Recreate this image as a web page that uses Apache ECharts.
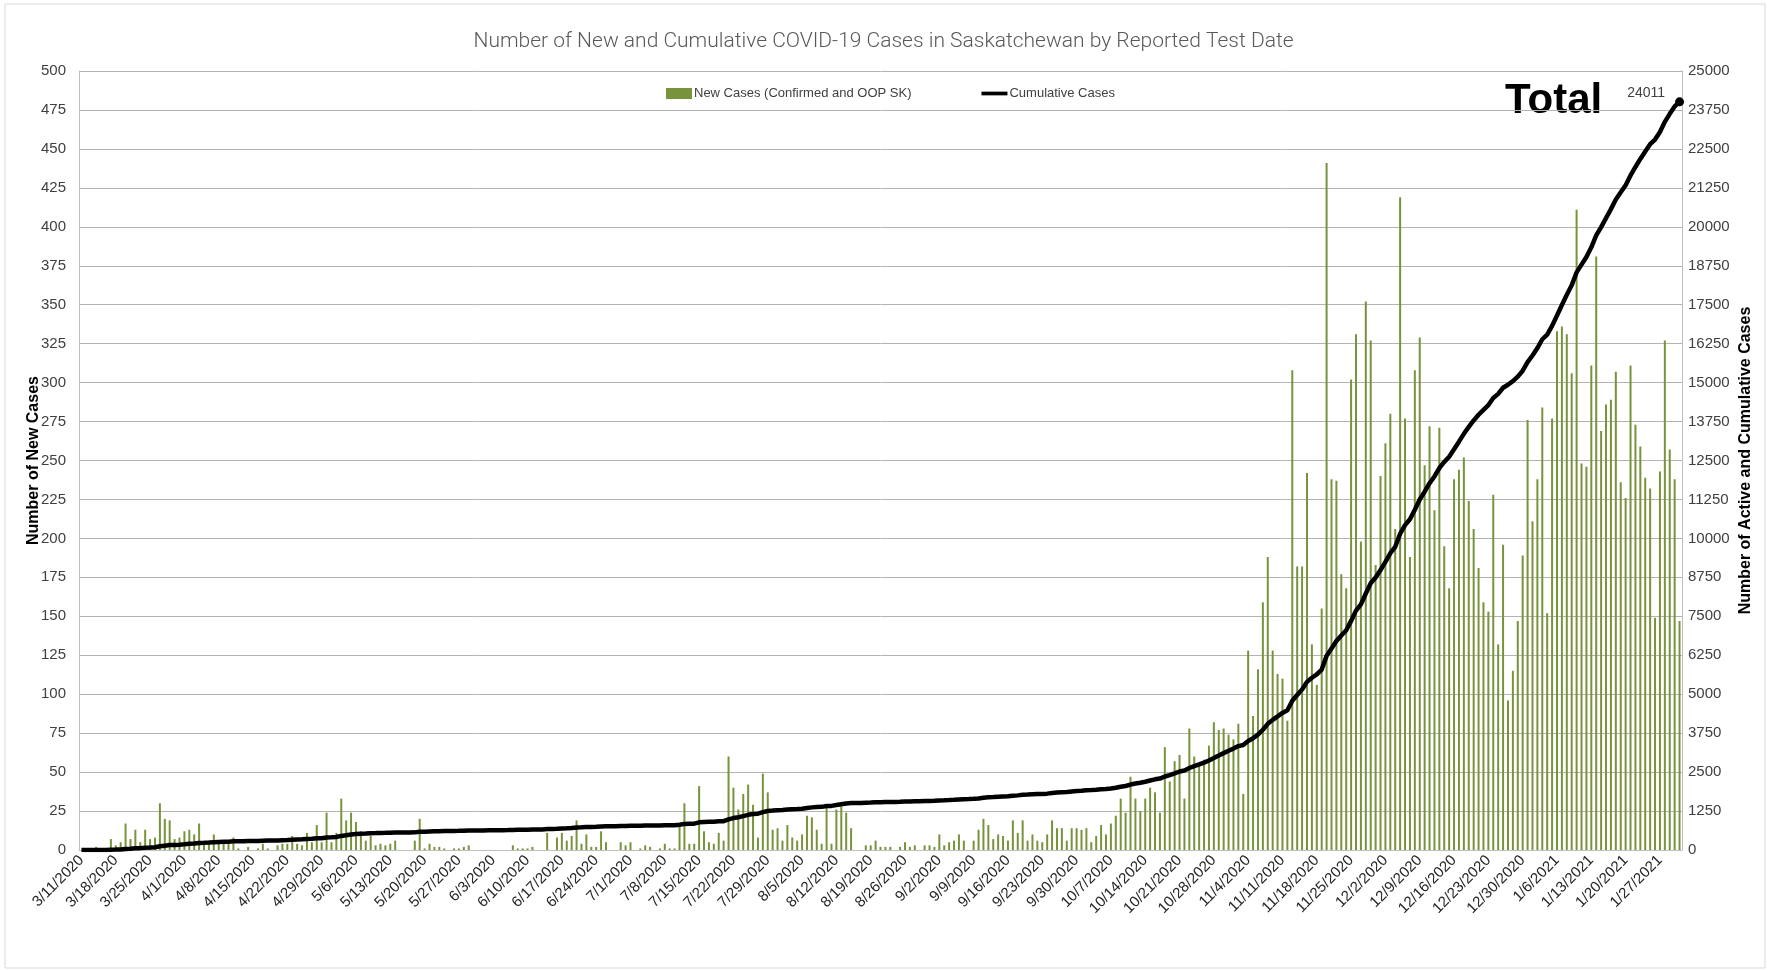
<!DOCTYPE html>
<html>
<head>
<meta charset="utf-8">
<title>New and Cumulative COVID-19 Cases in Saskatchewan</title>
<script src="https://cdn.jsdelivr.net/npm/echarts@6/dist/echarts.min.js"></script>
<style>
  html, body { margin: 0; padding: 0; background: #fff; }
  #chart { width: 1767px; height: 970px; }
</style>
</head>
<body>
<div id="chart"></div>
<script>
// daily new cases (3/11/2020 .. 1/31/2021)
const newCases = [
  0, 1, 0, 2, 0, 0, 7, 3, 5, 17,
  7, 13, 5, 13, 7, 8, 30, 20, 19, 7,
  8, 12, 13, 10, 17, 4, 5, 10, 5, 4,
  4, 8, 1, 0, 2, 0, 1, 4, 1, 0,
  3, 4, 4, 9, 4, 3, 11, 5, 16, 5,
  24, 5, 11, 33, 19, 24, 18, 12, 6, 9,
  3, 4, 3, 4, 6, 0, 0, 0, 6, 20,
  1, 4, 2, 2, 1, 0, 1, 1, 2, 3,
  0, 0, 0, 0, 0, 0, 0, 0, 3, 1,
  1, 1, 2, 0, 0, 11, 0, 8, 11, 6,
  9, 19, 4, 10, 2, 2, 12, 5, 0, 0,
  5, 3, 5, 0, 1, 3, 2, 0, 1, 4,
  1, 1, 15, 30, 4, 4, 41, 12, 5, 4,
  11, 6, 60, 40, 26, 36, 42, 29, 8, 49,
  37, 13, 14, 6, 16, 8, 6, 10, 22, 21,
  13, 4, 27, 4, 26, 28, 24, 14, 0, 0,
  3, 3, 6, 2, 2, 2, 0, 2, 5, 2,
  3, 0, 3, 3, 2, 10, 3, 5, 6, 10,
  6, 0, 6, 13, 20, 16, 7, 10, 9, 6,
  19, 11, 19, 6, 10, 6, 5, 10, 19, 14,
  14, 6, 14, 14, 13, 14, 5, 9, 16, 10,
  17, 22, 33, 24, 47, 33, 25, 33, 40, 37,
  24, 66, 44, 57, 61, 33, 78, 60, 56, 58,
  67, 82, 77, 78, 74, 71, 81, 36, 128, 86,
  116, 159, 188, 128, 113, 110, 83, 308, 182, 182,
  242, 132, 106, 155, 441, 238, 237, 177, 168, 302,
  331, 198, 352, 327, 183, 240, 261, 280, 206, 419,
  277, 188, 308, 329, 247, 272, 218, 271, 195, 168,
  238, 244, 252, 224, 206, 181, 159, 153, 228, 132,
  196, 96, 115, 147, 189, 276, 211, 238, 284, 152,
  277, 333, 336, 331, 306, 411, 248, 246, 311, 381,
  269, 286, 289, 307, 236, 226, 311, 273, 259, 239,
  232, 149, 243, 327, 257, 238, 147
];

// cumulative cases
const cumulativeCases = [
  0, 1, 1, 3, 3, 3, 10, 13, 18, 35,
  42, 55, 60, 73, 80, 88, 118, 138, 157, 164,
  172, 184, 197, 207, 224, 230, 237, 249, 256, 262,
  268, 278, 281, 283, 287, 289, 292, 298, 301, 303,
  308, 314, 320, 331, 337, 342, 353, 358, 374, 379,
  403, 408, 419, 452, 471, 495, 513, 525, 531, 540,
  543, 547, 550, 554, 560, 560, 560, 560, 566, 586,
  589, 595, 599, 603, 606, 608, 611, 614, 618, 623,
  625, 627, 629, 631, 633, 635, 637, 639, 644, 647,
  650, 653, 657, 659, 661, 672, 672, 680, 691, 697,
  706, 725, 729, 739, 741, 743, 755, 760, 761, 762,
  768, 772, 778, 779, 781, 784, 786, 786, 787, 791,
  792, 793, 808, 838, 842, 846, 887, 899, 904, 908,
  919, 925, 985, 1025, 1051, 1087, 1129, 1158, 1166, 1215,
  1252, 1265, 1279, 1285, 1301, 1309, 1315, 1325, 1347, 1368,
  1381, 1385, 1412, 1416, 1442, 1470, 1494, 1508, 1510, 1512,
  1517, 1522, 1530, 1534, 1538, 1542, 1544, 1548, 1555, 1559,
  1564, 1566, 1571, 1576, 1580, 1592, 1597, 1604, 1612, 1624,
  1632, 1634, 1642, 1655, 1675, 1691, 1698, 1708, 1717, 1723,
  1742, 1753, 1772, 1778, 1788, 1794, 1799, 1809, 1828, 1842,
  1856, 1862, 1876, 1890, 1903, 1917, 1922, 1931, 1947, 1957,
  1974, 1996, 2029, 2053, 2100, 2133, 2158, 2191, 2231, 2268,
  2292, 2358, 2402, 2459, 2520, 2553, 2631, 2691, 2747, 2805,
  2872, 2954, 3031, 3109, 3183, 3254, 3335, 3371, 3499, 3585,
  3701, 3860, 4048, 4176, 4289, 4399, 4482, 4790, 4972, 5154,
  5396, 5528, 5634, 5789, 6230, 6468, 6705, 6882, 7050, 7352,
  7683, 7881, 8233, 8560, 8743, 8983, 9244, 9524, 9730, 10149,
  10426, 10614, 10922, 11251, 11498, 11770, 11988, 12259, 12454, 12622,
  12860, 13104, 13356, 13580, 13786, 13967, 14126, 14279, 14507, 14639,
  14835, 14931, 15046, 15193, 15382, 15658, 15869, 16107, 16391, 16543,
  16820, 17153, 17489, 17820, 18126, 18537, 18785, 19031, 19342, 19723,
  19992, 20278, 20567, 20874, 21110, 21336, 21647, 21920, 22179, 22418,
  22650, 22799, 23042, 23369, 23626, 23864, 24011
];

// first reported test date: 11 March 2020, one category per day
const firstDay = { year: 2020, month: 3, day: 11 };

const leftTicks = { min: 0, max: 500, step: 25 };
const rightTicks = { min: 0, max: 25000, step: 1250 };

const sans = "'Liberation Sans', Arial, sans-serif";

// m/d/yyyy labels like the original axis
const dates = newCases.map((_, i) => {
  const d = new Date(Date.UTC(firstDay.year, firstDay.month - 1, firstDay.day + i));
  return (d.getUTCMonth() + 1) + '/' + d.getUTCDate() + '/' + d.getUTCFullYear();
});
const last = cumulativeCases.length - 1;

const chart = echarts.init(document.getElementById('chart'));

const option = {
  animation: false,
  backgroundColor: '#fff',
  title: {
    text: 'Number of New and Cumulative COVID-19 Cases in Saskatchewan by Reported Test Date',
    left: 'center',
    top: 26,
    textStyle: { fontFamily: 'Roboto', fontSize: 21, fontWeight: 300, color: '#595959' }
  },
  legend: {
    left: 661,
    top: 82,
    itemGap: 70,
    itemWidth: 26,
    itemHeight: 11,
    textStyle: { fontFamily: sans, fontSize: 13, color: '#404040', padding: [0, 0, 0, -3] },
    data: [
      { name: 'New Cases (Confirmed and OOP SK)', icon: 'rect' },
      { name: 'Cumulative Cases', icon: 'path://M0,0L28,0L28,4L0,4Z' }
    ]
  },
  grid: { left: 79, right: 85, top: 71, bottom: 120, containLabel: false },
  xAxis: {
    type: 'category',
    data: dates,
    boundaryGap: true,
    axisLine: { lineStyle: { color: '#bfbfbf' } },
    axisTick: { show: false },
    axisLabel: {
      interval: 6,
      rotate: 45,
      margin: 8,
      fontFamily: sans,
      fontSize: 15,
      color: '#262626'
    }
  },
  yAxis: [
    {
      type: 'value',
      min: leftTicks.min,
      max: leftTicks.max,
      interval: leftTicks.step,
      name: 'Number of New Cases',
      nameLocation: 'middle',
      nameRotate: 90,
      nameGap: 37,
      nameMoveOverlap: false,
      nameTextStyle: { fontFamily: sans, fontWeight: 'bold', fontSize: 16, color: '#000' },
      axisLine: { show: true, lineStyle: { color: '#bfbfbf' } },
      axisTick: { show: false },
      axisLabel: { margin: 13, fontFamily: sans, fontSize: 15, color: '#404040' },
      splitLine: { lineStyle: { color: '#b3b3b3', width: 1 } }
    },
    {
      type: 'value',
      position: 'right',
      min: rightTicks.min,
      max: rightTicks.max,
      interval: rightTicks.step,
      name: 'Number of Active and Cumulative Cases',
      nameLocation: 'middle',
      nameRotate: 90,
      nameGap: 56,
      nameMoveOverlap: false,
      nameTextStyle: { fontFamily: sans, fontWeight: 'bold', fontSize: 16, color: '#000' },
      axisLine: { show: true, lineStyle: { color: '#bfbfbf' } },
      axisTick: { show: false },
      axisLabel: { margin: 6, fontFamily: sans, fontSize: 15, color: '#404040', formatter: v => String(v) },
      splitLine: { show: false }
    }
  ],
  series: [
    {
      name: 'New Cases (Confirmed and OOP SK)',
      type: 'bar',
      yAxisIndex: 0,
      barWidth: 2,
      itemStyle: { color: '#77933c' },
      data: newCases
    },
    {
      name: 'Cumulative Cases',
      type: 'line',
      yAxisIndex: 1,
      showSymbol: false,
      symbol: 'none',
      lineStyle: { color: '#000', width: 4.5 },
      itemStyle: { color: '#000' },
      data: cumulativeCases,
      markPoint: {
        symbol: 'circle',
        symbolSize: 9,
        itemStyle: { color: '#000' },
        label: {
          show: true,
          position: 'left',
          distance: 10,
          offset: [0, -9],
          fontFamily: sans,
          fontSize: 14,
          color: '#404040',
          formatter: String(cumulativeCases[last])
        },
        data: [{ coord: [dates[last], cumulativeCases[last]] }]
      }
    }
  ],
  graphic: [
    {
      type: 'rect',
      silent: true,
      shape: { x: 5, y: 4, width: 1760, height: 964 },
      style: { fill: 'none', stroke: '#d9d9d9', lineWidth: 1 }
    },
    {
      type: 'text',
      left: 1505,
      top: 80,
      style: {
        text: 'Total',
        font: "bold 42px 'Liberation Sans', Arial, sans-serif",
        fill: '#000'
      }
    }
  ]
};

chart.setOption(option);
</script>
</body>
</html>
